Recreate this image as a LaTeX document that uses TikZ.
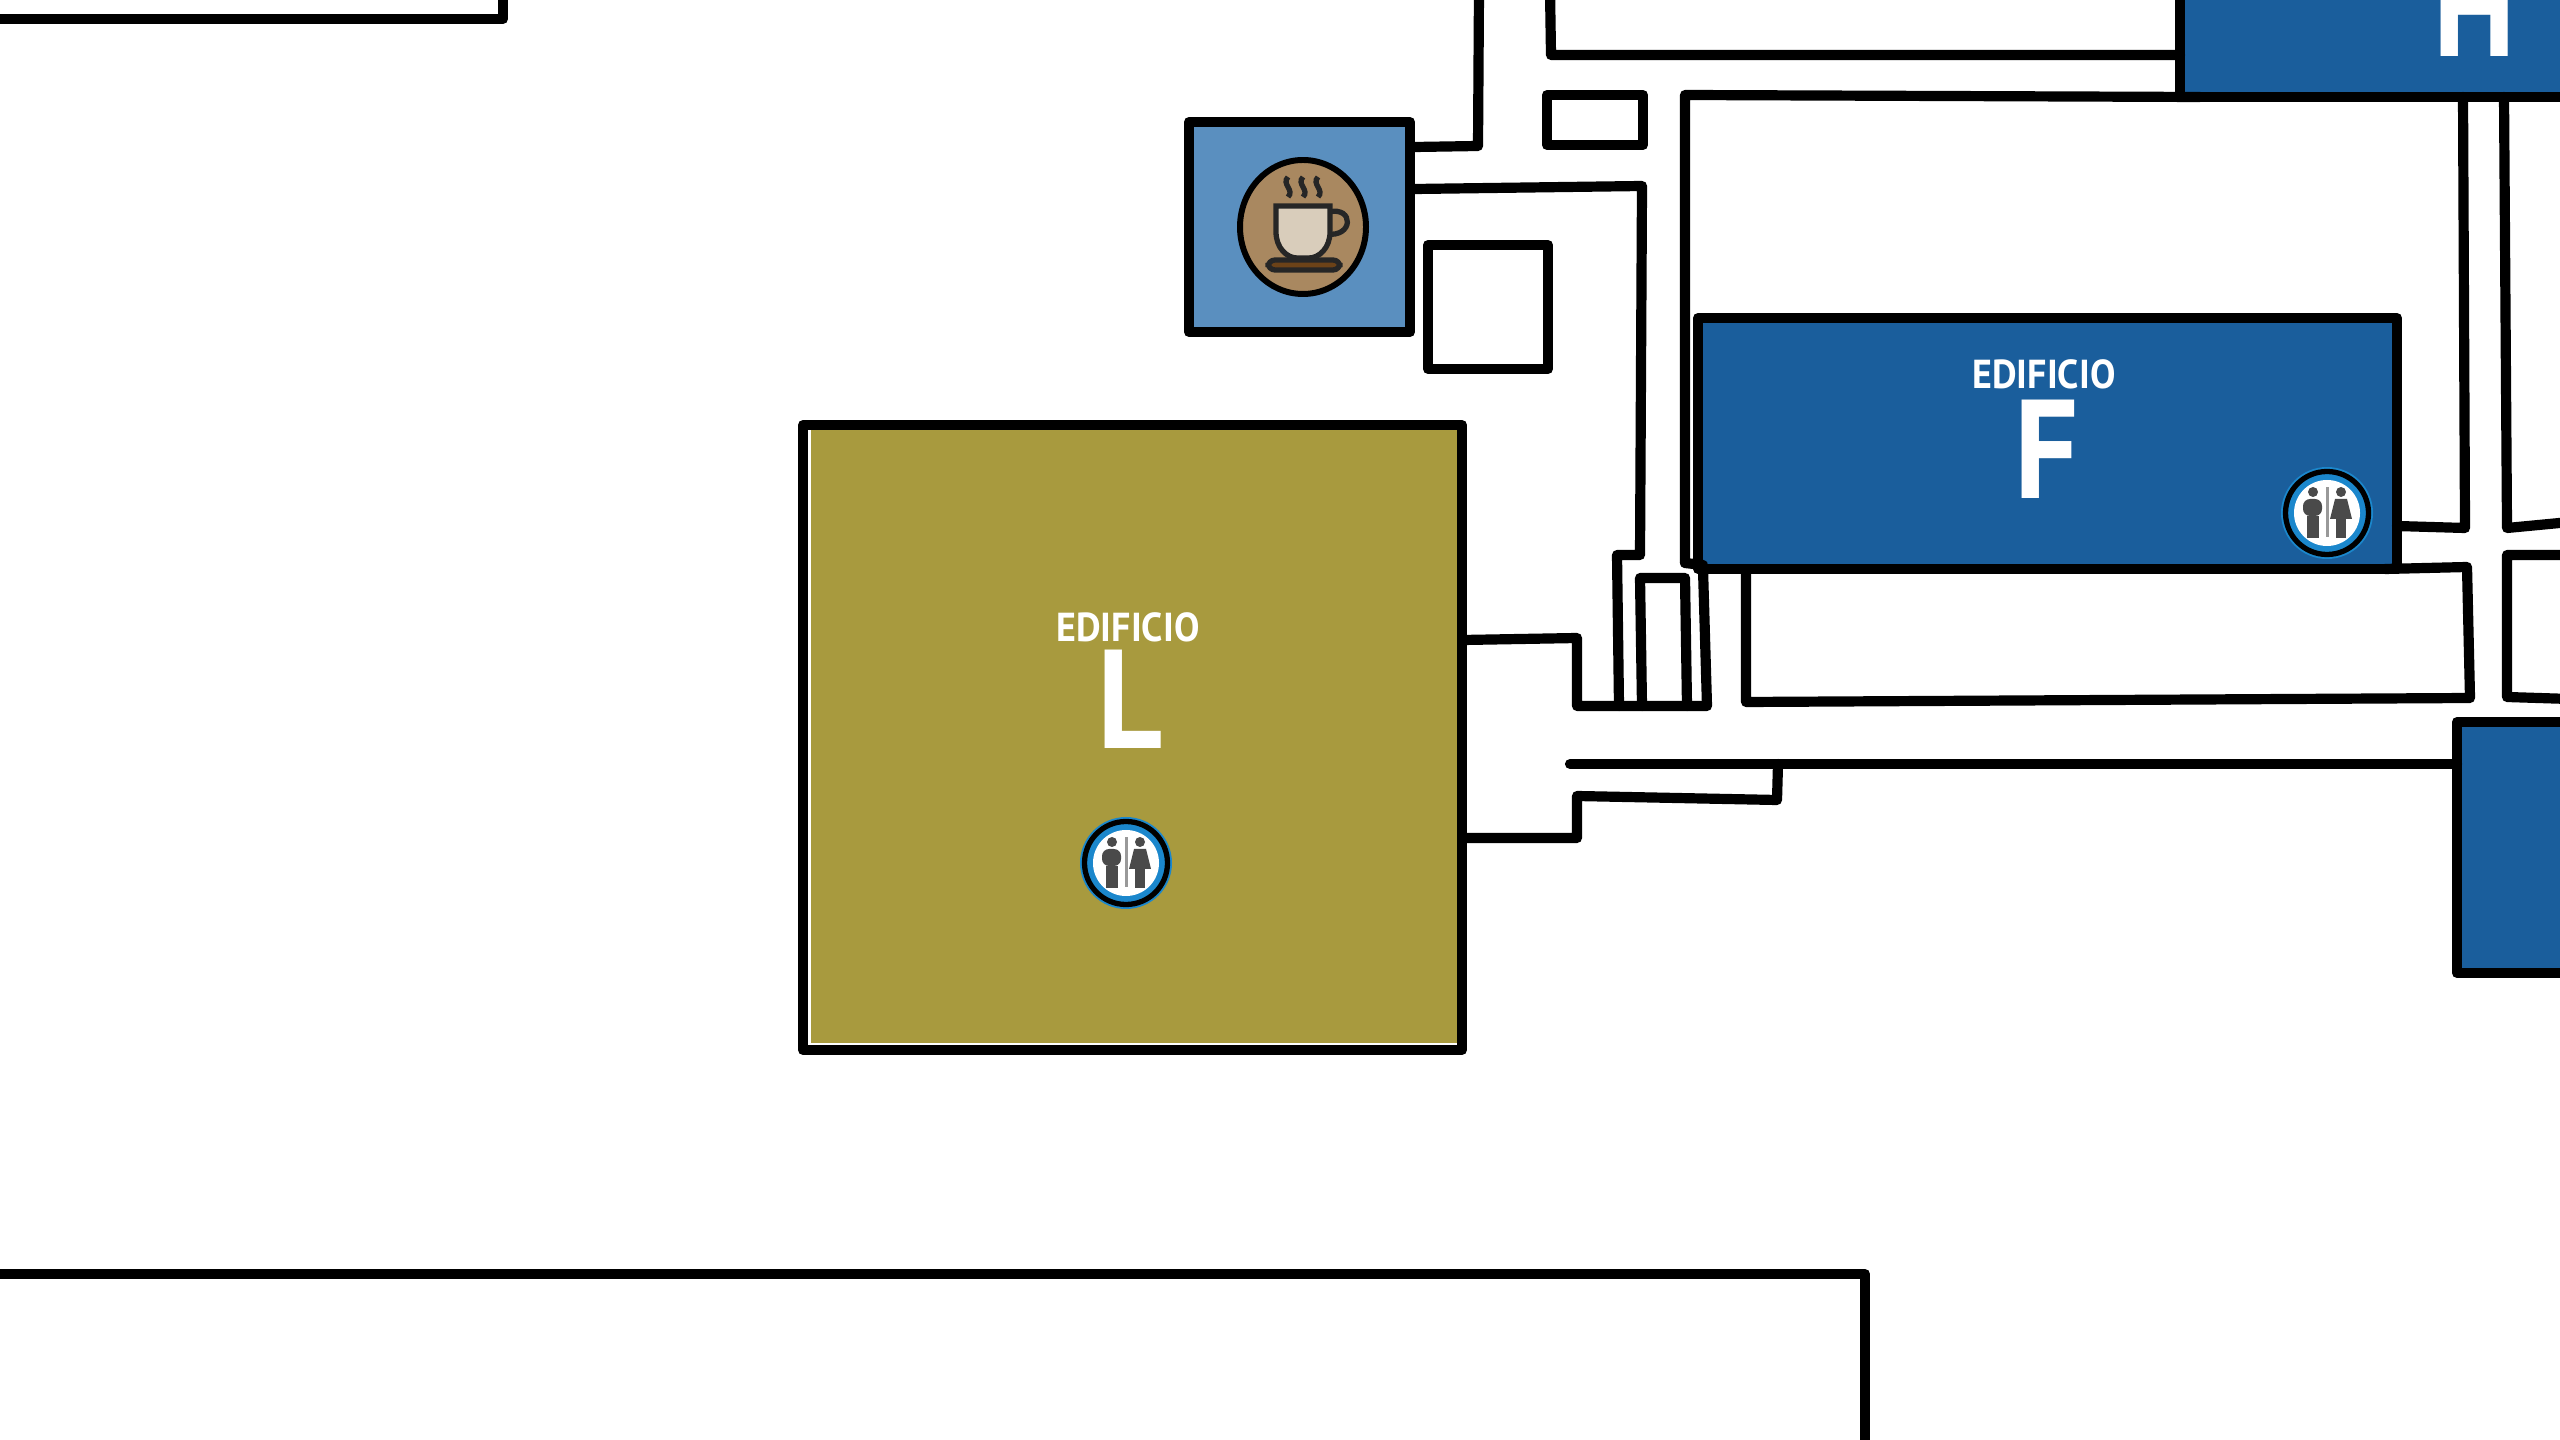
\documentclass[tikz,border=0pt]{standalone}
\usepackage{fontspec}
\usepackage{tikz}
\setmainfont{PT Sans}
\definecolor{buildblue}{HTML}{1A5E9C}
\definecolor{buildolive}{HTML}{A89A3E}
\definecolor{cafeblue}{HTML}{5A8FBF}
\definecolor{cafebrown}{HTML}{A98860}
\definecolor{cupcream}{HTML}{D9CDBB}
\definecolor{saucerbrown}{HTML}{6B4218}
\definecolor{ringblue}{HTML}{1B87CC}
\definecolor{figgray}{HTML}{4A4A4A}
\tikzset{
    wall/.style={line width=2.9pt, line join=round, line cap=round},
    biglabel/.style={text=white, font=\fontsize{40}{40}\bfseries\selectfont, xscale=0.9, inner sep=0pt},
    smalllabel/.style={text=white, font=\fontsize{11.5}{12}\bfseries\selectfont, xscale=0.94, inner sep=0pt}
}

\begin{document}
\begin{tikzpicture}[x=0.01cm, y=-0.01cm]
    \fill [white] (0,0) rectangle (2560,1440);
    \clip (0,0) rectangle (2560,1440);

    % Outer walls
    \draw [wall] (0,19) -- (503,19) -- (503,-10);
    \draw [wall] (-10,1274) -- (1865,1274) -- (1865,1450);

    % Building L
    \fill [white] (803,430) rectangle (1462,1046);
    \fill [buildolive] (811,430) rectangle (1462,1043);
    \draw [wall] (803,425) rectangle (1462,1050);
    \node [smalllabel] (labelL) at (1128,627) {EDIFICIO};
    \node [biglabel] (letterL) at (1130,699) {L};

    % Building F
    \fill [buildblue] (1698,318) rectangle (2397,569);
    \draw [wall] (1698,318) rectangle (2397,569);
    \node [smalllabel] (labelF) at (2044,374) {EDIFICIO};
    \node [biglabel] (letterF) at (2047,449) {F};

    % Building H
    \fill [buildblue] (2180,-10) rectangle (2570,97);
    \draw [wall] (2180,-10) -- (2180,97) -- (2570,97);
    \node [biglabel] (letterH) at (2475,7) {H};

    % Lower right building
    \fill [buildblue] (2457,722) rectangle (2570,973);
    \draw [wall] (2570,722) -- (2457,722) -- (2457,973) -- (2570,973);

    % Cafe
    \fill [cafeblue] (1189,122) rectangle (1410,332);
    \draw [wall] (1189,122) rectangle (1410,332);
    \draw [line width=1.7pt, fill=cafebrown] (1303,227) ellipse (63 and 67);
    \foreach \x in {1288,1303,1318}
        \draw [line width=1.5pt, black!85] (\x,177) .. controls (\x-7,184) and (\x+7,190) .. (\x,197);
    \draw [line width=1.5pt, black!85] (1329,212) .. controls (1354,206) and (1354,238) .. (1326,234);
    \draw [line width=1.5pt, black!85, fill=cupcream] (1276,206) -- (1330,206) -- (1330,232)
        .. controls (1330,248) and (1319,258) .. (1309,258) -- (1297,258)
        .. controls (1287,258) and (1276,248) .. (1276,232) -- cycle;
    \draw [line width=1.5pt, black!85, fill=saucerbrown, rounded corners=2] (1268,260) rectangle (1340,270);

    % Small rooms
    \draw [wall] (1428,245) rectangle (1548,369);
    \draw [wall] (1547,95) rectangle (1643,145);
    \draw [wall] (1550,-10) -- (1551,55) -- (2180,55);

    % Corridors around the cafe
    \draw [wall] (1415,147) -- (1478,146) -- (1479,-10);
    \draw [wall] (1415,189) -- (1642,186) -- (1640,555) -- (1617,555) -- (1619,706);
    \draw [wall] (1685,563) -- (1685,95) -- (2200,97);
    \draw [wall] (1685,563) -- (1703,565);

    % Walls between L and F
    \draw [wall] (1463,640) -- (1577,638) -- (1577,706) -- (1707,706) -- (1703,569);
    \draw [wall] (1642,706) -- (1640,578) -- (1685,578) -- (1687,706);
    \draw [wall] (1570,764) -- (2457,764);
    \draw [wall] (1778,764) -- (1777,800) -- (1577,796) -- (1577,838) -- (1463,838);

    % Rooms under F and on the right
    \draw [wall] (1746,570) -- (1746,702) -- (2470,698) -- (2467,567) -- (2385,569);
    \draw [wall] (2463,97) -- (2465,528) -- (2397,526);
    \draw [wall] (2504,97) -- (2507,528) -- (2570,522);
    \draw [wall] (2570,555) -- (2507,555) -- (2507,697) -- (2570,699);

    % Rest room signs
    \foreach \cx/\cy in {1126/863, 2327/513}{
        \fill [ringblue] (\cx,\cy) circle (46);
        \draw [line width=1.5pt, fill=ringblue] (\cx,\cy) circle (41.5);
        \fill [white] (\cx,\cy) circle (33);
        \fill [gray!80] (\cx-1.5,\cy-26) rectangle (\cx+1.5,\cy+24);
        % man
        \fill [figgray] (\cx-14,\cy-21) circle (5);
        \fill [figgray, rounded corners=2] (\cx-24,\cy-14) rectangle (\cx-5,\cy+3);
        \fill [figgray] (\cx-20,\cy+3) rectangle (\cx-8,\cy+25);
        % woman
        \fill [figgray] (\cx+14,\cy-21) circle (5);
        \fill [figgray] (\cx+8,\cy-14) -- (\cx+20,\cy-14) -- (\cx+25,\cy+6) -- (\cx+3,\cy+6) -- cycle;
        \fill [figgray] (\cx+9,\cy+6) rectangle (\cx+19,\cy+25);
    }
\end{tikzpicture}
\end{document}
